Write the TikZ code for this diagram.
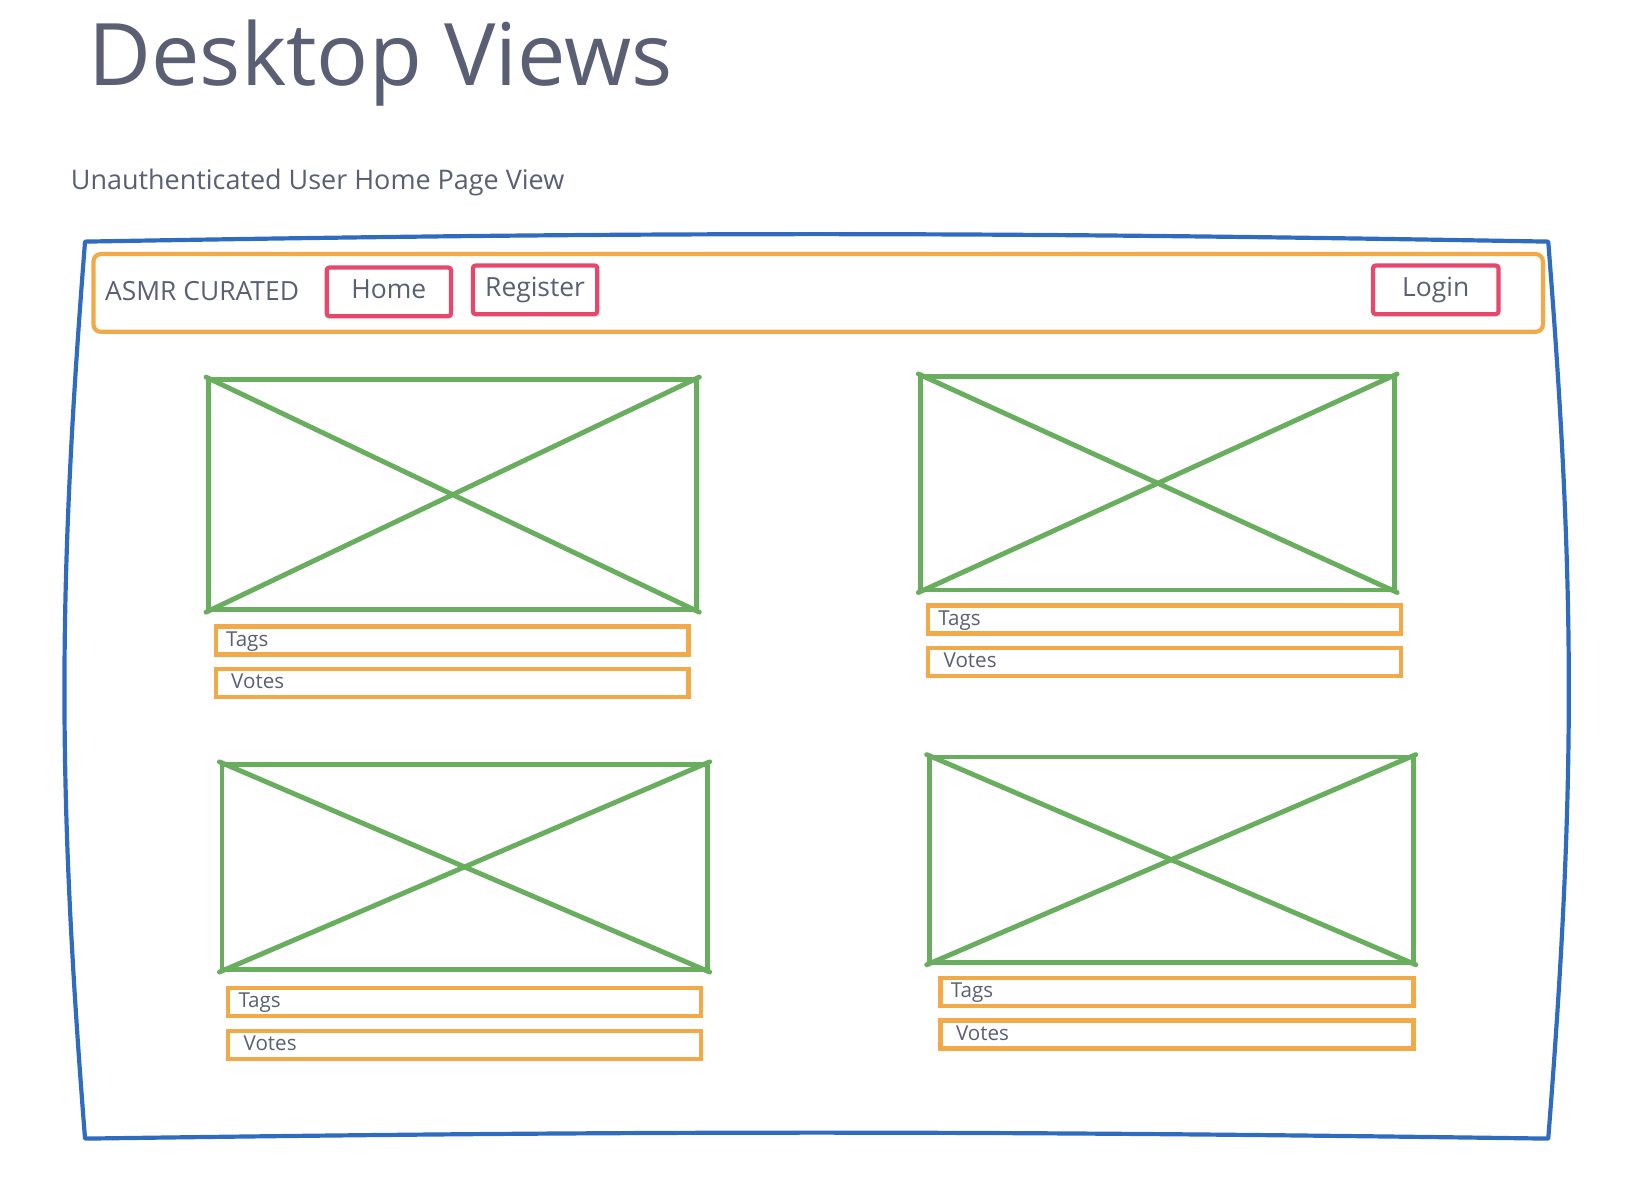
\documentclass[tikz,border=0pt]{standalone}
\usepackage{fontspec}
\setmainfont{Open Sans}
\usepackage{xcolor}
\usepackage{tikz}
\usetikzlibrary{positioning}
\definecolor{frameblue}{HTML}{2F6CC0}
\definecolor{navorange}{HTML}{F2A948}
\definecolor{btnred}{HTML}{E8476B}
\definecolor{thumbgreen}{HTML}{69AD5E}
\definecolor{inkgrey}{HTML}{5A5F73}
\newcommand\titlefont{\fontsize{47.4}{56}\selectfont}
\newcommand\subfont{\fontsize{14.8}{18}\selectfont}
\newcommand\navfont{\fontsize{14.5}{17}\selectfont}
\newcommand\fieldfont{\fontsize{11.3}{13}\selectfont}

\begin{document}
\begin{tikzpicture}[
  x=0.02cm, y=-0.02cm,
  heading/.style={anchor=base west, inner sep=0pt, text=inkgrey, font=\titlefont},
  subheading/.style={anchor=base west, inner sep=0pt, text=inkgrey, font=\subfont},
  brand/.style={anchor=base west, inner sep=0pt, text=inkgrey, font=\navfont},
  frame/.style={draw=frameblue, line width=2.3pt, line join=round},
  navbar/.style={draw=navorange, line width=2.3pt, rounded corners=4pt, minimum width=27.96cm, minimum height=1.5cm},
  navbtn/.style={draw=btnred, line width=2.3pt, rounded corners=1.5pt, minimum width=2.4cm, minimum height=0.94cm, inner sep=0pt, text height=0.37cm, text depth=0.1cm, text=inkgrey, font=\navfont},
  thumb/.style={draw=thumbgreen, line width=2.7pt, line join=round},
  cross/.style={draw=thumbgreen, line width=2.7pt, line cap=round},
  field/.style={draw=navorange, line width=2.4pt, anchor=north west, outer sep=0pt, text width=8.72cm, inner xsep=0.2cm, inner ysep=0pt, minimum height=0.54cm, text height=0.29cm, text depth=0.07cm, align=left, text=inkgrey, font=\fieldfont}
]
\useasboundingbox (0,0) rectangle (1568,1155);

\node[heading] (title) at (85,82) {Desktop Views};
\node[subheading] (subtitle) at (68,183) {Unauthenticated User Home Page View};

% browser window
\coordinate (frame-nw) at (82,233);
\coordinate (frame-ne) at (1493,233);
\coordinate (frame-se) at (1493,1098);
\coordinate (frame-sw) at (82,1098);
\draw[frame] (frame-nw) to[bend left=1] (frame-ne) to[bend left=4.5] (frame-se)
  to[bend right=0.8] (frame-sw) to[bend left=4.5] (frame-nw) -- cycle;

% nav bar
\node[navbar] (nav) at (789,282.5) {};
\node[brand] (brand) at (101,290) {ASMR CURATED};
\node[navbtn] (home) at (375,281.5) {Home};
\node[navbtn, right=0.34cm of home, yshift=0.04cm] (register) {Register};
\node[navbtn, minimum width=2.42cm] (login) at (1384.5,279.5) {Login};

% video cards
\node[thumb, minimum width=9.42cm, minimum height=4.44cm] (thumb-tl) at (436.5,477) {};
\draw[cross] (thumb-tl.north west) -- (thumb-tl.south east);
\draw[cross] (thumb-tl.south west) -- (thumb-tl.north east);
\node[field] (tags-tl) at (208,604) {Tags};
\node[field, below=0.28cm of tags-tl] (votes-tl) {\hspace{0.1cm}Votes};

\node[thumb, minimum width=9.14cm, minimum height=4.12cm] (thumb-tr) at (1116.5,466) {};
\draw[cross] (thumb-tr.north west) -- (thumb-tr.south east);
\draw[cross] (thumb-tr.south west) -- (thumb-tr.north east);
\node[field] (tags-tr) at (895,584) {Tags};
\node[field, below=0.28cm of tags-tr] (votes-tr) {\hspace{0.1cm}Votes};

\node[thumb, minimum width=9.36cm, minimum height=3.96cm] (thumb-bl) at (448,836) {};
\draw[cross] (thumb-bl.north west) -- (thumb-bl.south east);
\draw[cross] (thumb-bl.south west) -- (thumb-bl.north east);
\node[field] (tags-bl) at (220,953) {Tags};
\node[field, below=0.28cm of tags-bl] (votes-bl) {\hspace{0.1cm}Votes};

\node[thumb, minimum width=9.34cm, minimum height=3.96cm] (thumb-br) at (1129.5,829) {};
\draw[cross] (thumb-br.north west) -- (thumb-br.south east);
\draw[cross] (thumb-br.south west) -- (thumb-br.north east);
\node[field] (tags-br) at (907,943) {Tags};
\node[field, below=0.28cm of tags-br] (votes-br) {\hspace{0.1cm}Votes};
\end{tikzpicture}
\end{document}
